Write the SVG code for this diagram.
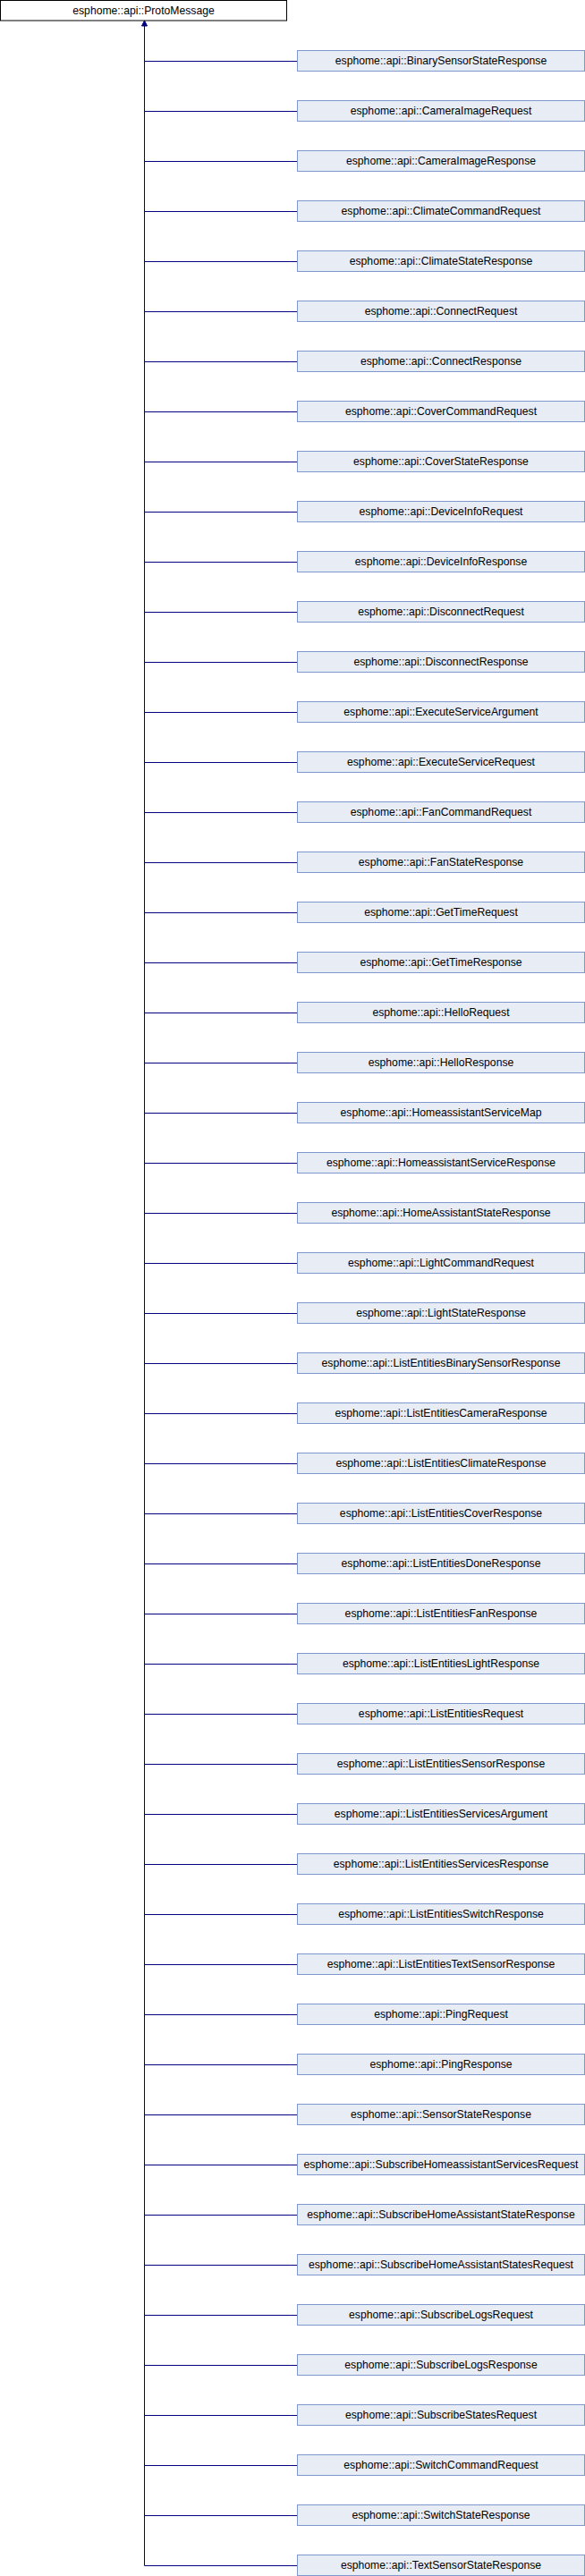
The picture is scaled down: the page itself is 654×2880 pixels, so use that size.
<svg xmlns="http://www.w3.org/2000/svg" width="654" height="2880" viewBox="0 0 654 2880">
<style>
.root{fill:#ffffff;stroke:#000000;stroke-width:1}
.box{fill:#e8ecf5;stroke:#7e98cd;stroke-width:1}
.lbl{font-family:"Liberation Sans",Arial,sans-serif;font-size:12.2px;fill:#000000;text-anchor:middle}
.edge{stroke:#000080;stroke-width:1;fill:none}
</style>
<rect width="654" height="2880" fill="#ffffff"/>
<g id="connectors">
<path class="edge" d="M161.5 25V2868.5"/>
<polygon points="161.5,23 158.5,29 164.5,29" fill="#000080" stroke="#000080" stroke-width="1"/>
<path class="edge" d="M161.5 68.5H332.5M161.5 124.5H332.5M161.5 180.5H332.5M161.5 236.5H332.5M161.5 292.5H332.5M161.5 348.5H332.5M161.5 404.5H332.5M161.5 460.5H332.5M161.5 516.5H332.5M161.5 572.5H332.5M161.5 628.5H332.5M161.5 684.5H332.5M161.5 740.5H332.5M161.5 796.5H332.5M161.5 852.5H332.5M161.5 908.5H332.5M161.5 964.5H332.5M161.5 1020.5H332.5M161.5 1076.5H332.5M161.5 1132.5H332.5M161.5 1188.5H332.5M161.5 1244.5H332.5M161.5 1300.5H332.5M161.5 1356.5H332.5M161.5 1412.5H332.5M161.5 1468.5H332.5M161.5 1524.5H332.5M161.5 1580.5H332.5M161.5 1636.5H332.5M161.5 1692.5H332.5M161.5 1748.5H332.5M161.5 1804.5H332.5M161.5 1860.5H332.5M161.5 1916.5H332.5M161.5 1972.5H332.5M161.5 2028.5H332.5M161.5 2084.5H332.5M161.5 2140.5H332.5M161.5 2196.5H332.5M161.5 2252.5H332.5M161.5 2308.5H332.5M161.5 2364.5H332.5M161.5 2420.5H332.5M161.5 2476.5H332.5M161.5 2532.5H332.5M161.5 2588.5H332.5M161.5 2644.5H332.5M161.5 2700.5H332.5M161.5 2756.5H332.5M161.5 2812.5H332.5M161.5 2868.5H332.5"/>
</g>
<g id="ProtoMessage"><rect class="root" x="0.5" y="0.5" width="320" height="22.5"/><text class="lbl" x="160.5" y="15.5">esphome::api::ProtoMessage</text></g>
<g id="n1"><rect class="box" x="332.5" y="56.5" width="321" height="23"/><text class="lbl" x="493" y="72">esphome::api::BinarySensorStateResponse</text></g>
<g id="n2"><rect class="box" x="332.5" y="112.5" width="321" height="23"/><text class="lbl" x="493" y="128">esphome::api::CameraImageRequest</text></g>
<g id="n3"><rect class="box" x="332.5" y="168.5" width="321" height="23"/><text class="lbl" x="493" y="184">esphome::api::CameraImageResponse</text></g>
<g id="n4"><rect class="box" x="332.5" y="224.5" width="321" height="23"/><text class="lbl" x="493" y="240">esphome::api::ClimateCommandRequest</text></g>
<g id="n5"><rect class="box" x="332.5" y="280.5" width="321" height="23"/><text class="lbl" x="493" y="296">esphome::api::ClimateStateResponse</text></g>
<g id="n6"><rect class="box" x="332.5" y="336.5" width="321" height="23"/><text class="lbl" x="493" y="352">esphome::api::ConnectRequest</text></g>
<g id="n7"><rect class="box" x="332.5" y="392.5" width="321" height="23"/><text class="lbl" x="493" y="408">esphome::api::ConnectResponse</text></g>
<g id="n8"><rect class="box" x="332.5" y="448.5" width="321" height="23"/><text class="lbl" x="493" y="464">esphome::api::CoverCommandRequest</text></g>
<g id="n9"><rect class="box" x="332.5" y="504.5" width="321" height="23"/><text class="lbl" x="493" y="520">esphome::api::CoverStateResponse</text></g>
<g id="n10"><rect class="box" x="332.5" y="560.5" width="321" height="23"/><text class="lbl" x="493" y="576">esphome::api::DeviceInfoRequest</text></g>
<g id="n11"><rect class="box" x="332.5" y="616.5" width="321" height="23"/><text class="lbl" x="493" y="632">esphome::api::DeviceInfoResponse</text></g>
<g id="n12"><rect class="box" x="332.5" y="672.5" width="321" height="23"/><text class="lbl" x="493" y="688">esphome::api::DisconnectRequest</text></g>
<g id="n13"><rect class="box" x="332.5" y="728.5" width="321" height="23"/><text class="lbl" x="493" y="744">esphome::api::DisconnectResponse</text></g>
<g id="n14"><rect class="box" x="332.5" y="784.5" width="321" height="23"/><text class="lbl" x="493" y="800">esphome::api::ExecuteServiceArgument</text></g>
<g id="n15"><rect class="box" x="332.5" y="840.5" width="321" height="23"/><text class="lbl" x="493" y="856">esphome::api::ExecuteServiceRequest</text></g>
<g id="n16"><rect class="box" x="332.5" y="896.5" width="321" height="23"/><text class="lbl" x="493" y="912">esphome::api::FanCommandRequest</text></g>
<g id="n17"><rect class="box" x="332.5" y="952.5" width="321" height="23"/><text class="lbl" x="493" y="968">esphome::api::FanStateResponse</text></g>
<g id="n18"><rect class="box" x="332.5" y="1008.5" width="321" height="23"/><text class="lbl" x="493" y="1024">esphome::api::GetTimeRequest</text></g>
<g id="n19"><rect class="box" x="332.5" y="1064.5" width="321" height="23"/><text class="lbl" x="493" y="1080">esphome::api::GetTimeResponse</text></g>
<g id="n20"><rect class="box" x="332.5" y="1120.5" width="321" height="23"/><text class="lbl" x="493" y="1136">esphome::api::HelloRequest</text></g>
<g id="n21"><rect class="box" x="332.5" y="1176.5" width="321" height="23"/><text class="lbl" x="493" y="1192">esphome::api::HelloResponse</text></g>
<g id="n22"><rect class="box" x="332.5" y="1232.5" width="321" height="23"/><text class="lbl" x="493" y="1248">esphome::api::HomeassistantServiceMap</text></g>
<g id="n23"><rect class="box" x="332.5" y="1288.5" width="321" height="23"/><text class="lbl" x="493" y="1304">esphome::api::HomeassistantServiceResponse</text></g>
<g id="n24"><rect class="box" x="332.5" y="1344.5" width="321" height="23"/><text class="lbl" x="493" y="1360">esphome::api::HomeAssistantStateResponse</text></g>
<g id="n25"><rect class="box" x="332.5" y="1400.5" width="321" height="23"/><text class="lbl" x="493" y="1416">esphome::api::LightCommandRequest</text></g>
<g id="n26"><rect class="box" x="332.5" y="1456.5" width="321" height="23"/><text class="lbl" x="493" y="1472">esphome::api::LightStateResponse</text></g>
<g id="n27"><rect class="box" x="332.5" y="1512.5" width="321" height="23"/><text class="lbl" x="493" y="1528">esphome::api::ListEntitiesBinarySensorResponse</text></g>
<g id="n28"><rect class="box" x="332.5" y="1568.5" width="321" height="23"/><text class="lbl" x="493" y="1584">esphome::api::ListEntitiesCameraResponse</text></g>
<g id="n29"><rect class="box" x="332.5" y="1624.5" width="321" height="23"/><text class="lbl" x="493" y="1640">esphome::api::ListEntitiesClimateResponse</text></g>
<g id="n30"><rect class="box" x="332.5" y="1680.5" width="321" height="23"/><text class="lbl" x="493" y="1696">esphome::api::ListEntitiesCoverResponse</text></g>
<g id="n31"><rect class="box" x="332.5" y="1736.5" width="321" height="23"/><text class="lbl" x="493" y="1752">esphome::api::ListEntitiesDoneResponse</text></g>
<g id="n32"><rect class="box" x="332.5" y="1792.5" width="321" height="23"/><text class="lbl" x="493" y="1808">esphome::api::ListEntitiesFanResponse</text></g>
<g id="n33"><rect class="box" x="332.5" y="1848.5" width="321" height="23"/><text class="lbl" x="493" y="1864">esphome::api::ListEntitiesLightResponse</text></g>
<g id="n34"><rect class="box" x="332.5" y="1904.5" width="321" height="23"/><text class="lbl" x="493" y="1920">esphome::api::ListEntitiesRequest</text></g>
<g id="n35"><rect class="box" x="332.5" y="1960.5" width="321" height="23"/><text class="lbl" x="493" y="1976">esphome::api::ListEntitiesSensorResponse</text></g>
<g id="n36"><rect class="box" x="332.5" y="2016.5" width="321" height="23"/><text class="lbl" x="493" y="2032">esphome::api::ListEntitiesServicesArgument</text></g>
<g id="n37"><rect class="box" x="332.5" y="2072.5" width="321" height="23"/><text class="lbl" x="493" y="2088">esphome::api::ListEntitiesServicesResponse</text></g>
<g id="n38"><rect class="box" x="332.5" y="2128.5" width="321" height="23"/><text class="lbl" x="493" y="2144">esphome::api::ListEntitiesSwitchResponse</text></g>
<g id="n39"><rect class="box" x="332.5" y="2184.5" width="321" height="23"/><text class="lbl" x="493" y="2200">esphome::api::ListEntitiesTextSensorResponse</text></g>
<g id="n40"><rect class="box" x="332.5" y="2240.5" width="321" height="23"/><text class="lbl" x="493" y="2256">esphome::api::PingRequest</text></g>
<g id="n41"><rect class="box" x="332.5" y="2296.5" width="321" height="23"/><text class="lbl" x="493" y="2312">esphome::api::PingResponse</text></g>
<g id="n42"><rect class="box" x="332.5" y="2352.5" width="321" height="23"/><text class="lbl" x="493" y="2368">esphome::api::SensorStateResponse</text></g>
<g id="n43"><rect class="box" x="332.5" y="2408.5" width="321" height="23"/><text class="lbl" x="493" y="2424">esphome::api::SubscribeHomeassistantServicesRequest</text></g>
<g id="n44"><rect class="box" x="332.5" y="2464.5" width="321" height="23"/><text class="lbl" x="493" y="2480">esphome::api::SubscribeHomeAssistantStateResponse</text></g>
<g id="n45"><rect class="box" x="332.5" y="2520.5" width="321" height="23"/><text class="lbl" x="493" y="2536">esphome::api::SubscribeHomeAssistantStatesRequest</text></g>
<g id="n46"><rect class="box" x="332.5" y="2576.5" width="321" height="23"/><text class="lbl" x="493" y="2592">esphome::api::SubscribeLogsRequest</text></g>
<g id="n47"><rect class="box" x="332.5" y="2632.5" width="321" height="23"/><text class="lbl" x="493" y="2648">esphome::api::SubscribeLogsResponse</text></g>
<g id="n48"><rect class="box" x="332.5" y="2688.5" width="321" height="23"/><text class="lbl" x="493" y="2704">esphome::api::SubscribeStatesRequest</text></g>
<g id="n49"><rect class="box" x="332.5" y="2744.5" width="321" height="23"/><text class="lbl" x="493" y="2760">esphome::api::SwitchCommandRequest</text></g>
<g id="n50"><rect class="box" x="332.5" y="2800.5" width="321" height="23"/><text class="lbl" x="493" y="2816">esphome::api::SwitchStateResponse</text></g>
<g id="n51"><rect class="box" x="332.5" y="2856.5" width="321" height="23"/><text class="lbl" x="493" y="2872">esphome::api::TextSensorStateResponse</text></g>
</svg>
